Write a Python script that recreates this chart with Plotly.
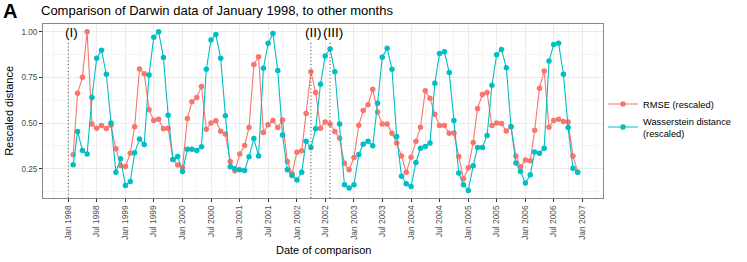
import pandas as pd
import plotly.graph_objects as go

# ---- data (monthly, Feb 1998 - Dec 2006) ----
months = pd.date_range("1998-02-01", "2006-12-01", freq="MS")

rmse = [
    # 1998 Feb-Dec
    0.326, 0.663, 0.750, 1.000, 0.494, 0.472, 0.486, 0.470, 0.488, 0.359, 0.268,
    # 1999
    0.262, 0.335, 0.480, 0.796, 0.770, 0.572, 0.514, 0.520, 0.468, 0.472, 0.300, 0.270,
    # 2000
    0.257, 0.525, 0.616, 0.640, 0.700, 0.466, 0.500, 0.512, 0.455, 0.440, 0.290, 0.239,
    # 2001
    0.330, 0.377, 0.475, 0.820, 0.863, 0.448, 0.490, 0.514, 0.475, 0.517, 0.290, 0.222,
    # 2002
    0.340, 0.348, 0.552, 0.780, 0.667, 0.472, 0.505, 0.495, 0.454, 0.417, 0.280, 0.244,
    # 2003
    0.311, 0.488, 0.568, 0.600, 0.685, 0.560, 0.494, 0.494, 0.444, 0.390, 0.320, 0.230,
    # 2004
    0.313, 0.400, 0.477, 0.676, 0.636, 0.548, 0.486, 0.486, 0.444, 0.445, 0.317, 0.195,
    # 2005
    0.255, 0.393, 0.580, 0.656, 0.667, 0.486, 0.500, 0.497, 0.456, 0.480, 0.320, 0.260,
    # 2006
    0.297, 0.293, 0.460, 0.690, 0.785, 0.477, 0.514, 0.520, 0.508, 0.505, 0.320, 0.231,
]

wasserstein = [
    # 1998 Feb-Dec
    0.271, 0.454, 0.350, 0.330, 0.640, 0.854, 0.898, 0.767, 0.500, 0.231, 0.304,
    # 1999
    0.158, 0.180, 0.337, 0.413, 0.383, 0.763, 0.969, 1.000, 0.858, 0.543, 0.300, 0.317,
    # 2000
    0.235, 0.357, 0.357, 0.350, 0.370, 0.794, 0.954, 0.984, 0.854, 0.540, 0.260, 0.250,
    # 2001
    0.244, 0.240, 0.315, 0.415, 0.319, 0.800, 0.936, 0.990, 0.787, 0.435, 0.244, 0.213,
    # 2002
    0.188, 0.231, 0.400, 0.366, 0.468, 0.712, 0.867, 0.905, 0.780, 0.495, 0.162, 0.144,
    # 2003
    0.162, 0.328, 0.384, 0.400, 0.375, 0.608, 0.860, 0.909, 0.794, 0.426, 0.208, 0.168,
    # 2004
    0.153, 0.284, 0.362, 0.372, 0.390, 0.718, 0.880, 0.890, 0.776, 0.514, 0.226, 0.162,
    # 2005
    0.131, 0.266, 0.366, 0.366, 0.432, 0.707, 0.874, 0.903, 0.803, 0.480, 0.281, 0.235,
    # 2006
    0.172, 0.217, 0.341, 0.335, 0.362, 0.840, 0.930, 0.936, 0.767, 0.475, 0.253, 0.231,
]

series_names = ["RMSE (rescaled)", "Wasserstein distance<br>(rescaled)"]
series_colors = ["#F8766D", "#00BFC4"]

event_dates = ["1998-01-01", "2002-04-01", "2002-08-01"]
event_labels = ["(I)", "(II)", "(III)"]

tick_dates = pd.date_range("1998-01-01", "2007-01-01", freq="6MS")
tick_labels = [d.strftime("%b %Y") for d in tick_dates]

y_ticks = [0.25, 0.50, 0.75, 1.00]
y_tick_labels = ["0.25", "0.50", "0.75", "1.00"]

FONT = "Liberation Sans, Arial, Helvetica, sans-serif"

fig = go.Figure()
for name, vals, col in zip(series_names, [rmse, wasserstein], series_colors):
    fig.add_trace(go.Scatter(
        x=months, y=vals, name=name, mode="lines+markers",
        line=dict(color=col, width=1.1),
        marker=dict(color=col, size=5.5),
    ))

for d, lab in zip(event_dates, event_labels):
    fig.add_shape(type="line", xref="x", yref="paper", x0=d, x1=d, y0=0, y1=0.9,
                  line=dict(color="#666666", width=1.2, dash="1px,2.5px"))
    fig.add_annotation(x=d, y=0.993, xref="x", yref="y", text=lab, showarrow=False,
                       xshift=3, font=dict(family=FONT, size=13.5, color="black"))

# title, panel tag and axis titles
fig.add_annotation(x=0, y=1.075, xref="paper", yref="paper", xanchor="left", yanchor="middle",
                   xshift=-4, text="Comparison of Darwin data of January 1998, to other months",
                   showarrow=False, font=dict(family=FONT, size=13, color="black"))
fig.add_annotation(x=-0.0598, y=1.075, xref="paper", yref="paper", xanchor="center", yanchor="middle",
                   text="<b>A</b>", showarrow=False,
                   font=dict(family=FONT, size=20, color="black"))
fig.add_annotation(x=0.5, y=-0.297, xref="paper", yref="paper", xanchor="center", yanchor="middle",
                   text="Date of comparison", showarrow=False,
                   font=dict(family=FONT, size=11, color="black"))
fig.add_annotation(x=-0.061, y=0.5, xref="paper", yref="paper", xanchor="center", yanchor="middle",
                   text="Rescaled distance", textangle=-90, showarrow=False,
                   font=dict(family=FONT, size=11, color="black"))

fig.update_layout(
    width=747, height=262,
    margin=dict(l=43, r=144, t=24, b=64, autoexpand=False),
    paper_bgcolor="white", plot_bgcolor="white",
    font=dict(family=FONT, color="#4D4D4D"),
    showlegend=True,
    legend=dict(x=1.0, xanchor="left", y=0.46, yanchor="middle",
                font=dict(family=FONT, size=9.3, color="black"),
                bgcolor="rgba(0,0,0,0)", tracegroupgap=2),
)
fig.update_xaxes(
    type="date", range=["1997-07-23", "2007-05-12"], automargin=False,
    tickmode="array", tickvals=tick_dates, ticktext=tick_labels, tickangle=-90,
    tickfont=dict(family=FONT, size=8.4, color="#4D4D4D"),
    ticks="outside", ticklen=3, tickcolor="#333333", tickwidth=1,
    showgrid=True, gridcolor="#EBEBEB", gridwidth=1,
    minor=dict(tickmode="linear", tick0="1997-10-01", dtick="M6", showgrid=True,
               gridcolor="#F4F4F4", gridwidth=0.6, ticks=""),
    showline=True, mirror=True, linecolor="#888888", linewidth=1,
    zeroline=False,
)
fig.update_yaxes(
    range=[0.0896, 1.042], automargin=False,
    tickmode="array", tickvals=y_ticks, ticktext=y_tick_labels,
    tickfont=dict(family=FONT, size=8.2, color="#4D4D4D"),
    ticks="outside", ticklen=3, tickcolor="#333333", tickwidth=1,
    showgrid=True, gridcolor="#EBEBEB", gridwidth=1,
    minor=dict(tickmode="linear", tick0=0.125, dtick=0.25, showgrid=True,
               gridcolor="#F4F4F4", gridwidth=0.6, ticks=""),
    showline=True, mirror=True, linecolor="#888888", linewidth=1,
    zeroline=False,
)

fig.write_html("out.html", config={"displayModeBar": False},
               post_script="document.body.style.margin='0px';")
